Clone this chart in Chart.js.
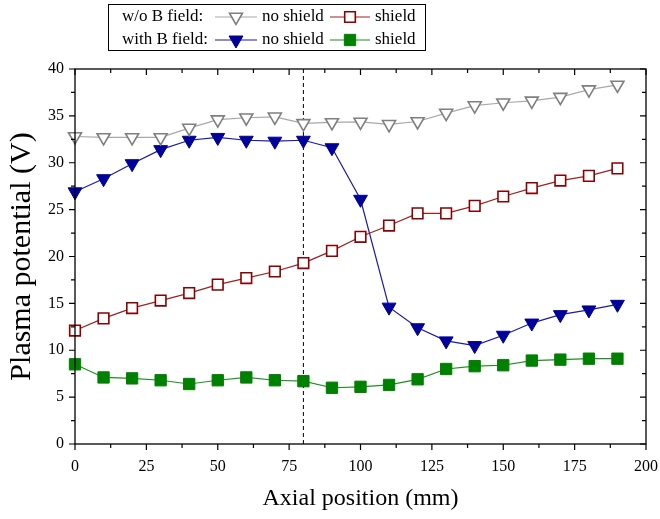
<!DOCTYPE html>
<html>
<head>
<meta charset="utf-8">
<title>Plasma potential vs axial position</title>
<script src="https://cdn.jsdelivr.net/npm/chart.js@4.4.1/dist/chart.umd.min.js"></script>
<style>
  html, body { margin: 0; padding: 0; background: #fff; }
  #wrap { width: 660px; height: 519px; position: relative; }
</style>
</head>
<body>
<div id="wrap"><canvas id="chart"></canvas></div>
<script>
// axial positions (mm)
const positions = [0, 10, 20, 30, 40, 50, 60, 70, 80, 90, 100, 110, 120, 130, 140, 150, 160, 170, 180, 190];

// plasma potential (V)
const noShieldNoB = [32.8, 32.7, 32.7, 32.7, 33.7, 34.6, 34.8, 34.9, 34.2, 34.3, 34.35, 34.1, 34.4, 35.3, 36.1, 36.4, 36.6, 37.0, 37.8, 38.3];
const shieldNoB = [12.1, 13.4, 14.5, 15.3, 16.1, 17.0, 17.7, 18.4, 19.3, 20.6, 22.1, 23.3, 24.6, 24.6, 25.4, 26.4, 27.3, 28.1, 28.6, 29.4];
const noShieldB = [26.9, 28.3, 29.9, 31.4, 32.4, 32.7, 32.4, 32.3, 32.4, 31.6, 26.1, 14.6, 12.4, 11.0, 10.5, 11.6, 12.9, 13.8, 14.3, 14.9];
const shieldB = [8.5, 7.1, 7.0, 6.8, 6.4, 6.8, 7.1, 6.8, 6.7, 6.0, 6.1, 6.3, 6.9, 8.0, 8.3, 8.4, 8.9, 9.0, 9.1, 9.1];

// dashed marker line position
const guideX = 80;

const legendGroups = ['w/o B field:', 'with B field:'];
const legendLabels = ['no shield', 'shield'];
const xTitle = 'Axial position (mm)';
const yTitle = 'Plasma potential (V)';

const serif = '"Liberation Serif", "Times New Roman", serif';
Chart.defaults.font.family = serif;
Chart.defaults.color = '#000';

const pts = arr => positions.map((x, i) => ({ x: x, y: arr[i] }));

// box + ticks on all four sides (minor ticks halfway between major ones)
const framePlugin = {
  id: 'frame',
  afterDraw(chart) {
    const { ctx, chartArea: a, scales: { x, y } } = chart;
    ctx.save();
    ctx.strokeStyle = '#000';
    ctx.lineWidth = 1.3;
    ctx.strokeRect(a.left, a.top, a.right - a.left, a.bottom - a.top);
    ctx.lineWidth = 1.2;
    const xt = x.ticks.map(t => t.value);
    const yt = y.ticks.map(t => t.value);
    ctx.beginPath();
    xt.forEach((v, i) => {
      const px = x.getPixelForValue(v);
      ctx.moveTo(px, a.bottom); ctx.lineTo(px, a.bottom + 6);
      ctx.moveTo(px, a.top); ctx.lineTo(px, a.top + 6);
      if (i < xt.length - 1) {
        const mx = x.getPixelForValue((v + xt[i + 1]) / 2);
        ctx.moveTo(mx, a.bottom); ctx.lineTo(mx, a.bottom + 4);
        ctx.moveTo(mx, a.top); ctx.lineTo(mx, a.top + 4);
      }
    });
    yt.forEach((v, i) => {
      const py = y.getPixelForValue(v);
      ctx.moveTo(a.left, py); ctx.lineTo(a.left - 6, py);
      ctx.moveTo(a.right, py); ctx.lineTo(a.right - 6, py);
      if (i < yt.length - 1) {
        const my = y.getPixelForValue((v + yt[i + 1]) / 2);
        ctx.moveTo(a.left, my); ctx.lineTo(a.left - 4, my);
        ctx.moveTo(a.right, my); ctx.lineTo(a.right - 4, my);
      }
    });
    ctx.stroke();
    ctx.restore();
  }
};

// two-row grouped legend in a box at the top
const legendPlugin = {
  id: 'groupLegend',
  afterDraw(chart) {
    const ctx = chart.ctx;
    const ds = chart.data.datasets;
    ctx.save();
    ctx.fillStyle = '#fff';
    ctx.fillRect(108, 4, 317, 46);
    ctx.strokeStyle = '#000';
    ctx.lineWidth = 1;
    ctx.strokeRect(108.5, 4.5, 317, 46);
    ctx.font = '17px ' + serif;
    ctx.textBaseline = 'middle';
    const rows = [[0, 1], [2, 3]];
    const rowY = [17, 40];
    const cols = [{ x0: 215, x1: 257, tx: 262 }, { x0: 330, x1: 370, tx: 375 }];
    rows.forEach((idx, r) => {
      ctx.fillStyle = '#000';
      ctx.fillText(legendGroups[r], 122, rowY[r]);
      idx.forEach((d, c) => {
        const s = ds[d];
        const col = cols[c];
        ctx.strokeStyle = s.borderColor;
        ctx.lineWidth = s.borderWidth;
        ctx.beginPath();
        ctx.moveTo(col.x0, rowY[r]);
        ctx.lineTo(col.x1, rowY[r]);
        ctx.stroke();
        ctx.fillStyle = s.pointBackgroundColor;
        ctx.strokeStyle = s.pointBorderColor;
        ctx.lineWidth = s.pointBorderWidth;
        Chart.helpers.drawPoint(ctx, {
          pointStyle: s.pointStyle, rotation: s.pointRotation || 0,
          radius: s.pointRadius, borderWidth: s.pointBorderWidth
        }, (col.x0 + col.x1) / 2, rowY[r]);
        ctx.fillStyle = '#000';
        ctx.fillText(legendLabels[c], col.tx, rowY[r]);
      });
    });
    ctx.restore();
  }
};

new Chart(document.getElementById('chart'), {
  type: 'line',
  data: {
    datasets: [
      {
        label: 'w/o B field: no shield', data: pts(noShieldNoB),
        borderColor: '#a8a8a8', borderWidth: 1.2,
        pointStyle: 'triangle', pointRotation: 180, pointRadius: 7.5,
        pointBackgroundColor: '#fff', pointBorderColor: '#7f7f7f', pointBorderWidth: 1.6
      },
      {
        label: 'w/o B field: shield', data: pts(shieldNoB),
        borderColor: '#a02020', borderWidth: 1.2,
        pointStyle: 'rect', pointRadius: 7.5,
        pointBackgroundColor: '#fff', pointBorderColor: '#8b0000', pointBorderWidth: 1.6
      },
      {
        label: 'with B field: no shield', data: pts(noShieldB),
        borderColor: '#1a1aa8', borderWidth: 1.2,
        pointStyle: 'triangle', pointRotation: 180, pointRadius: 8,
        pointBackgroundColor: '#00009a', pointBorderColor: '#00009a', pointBorderWidth: 1
      },
      {
        label: 'with B field: shield', data: pts(shieldB),
        borderColor: '#1f8f1f', borderWidth: 1.2,
        pointStyle: 'rect', pointRadius: 8,
        pointBackgroundColor: '#008000', pointBorderColor: '#008000', pointBorderWidth: 1
      },
      {
        label: 'guide', data: [{ x: guideX, y: 0 }, { x: guideX, y: 40 }],
        borderColor: '#000', borderWidth: 1, borderDash: [4, 3],
        pointRadius: 0
      }
    ]
  },
  options: {
    responsive: true,
    maintainAspectRatio: false,
    devicePixelRatio: 1,
    animation: false,
    layout: { padding: { top: 69, right: 14, left: 0, bottom: 0 } },
    datasets: { line: { clip: false, tension: 0 } },
    plugins: { legend: { display: false }, tooltip: { enabled: false } },
    scales: {
      x: {
        type: 'linear', min: 0, max: 200,
        ticks: { stepSize: 25, padding: 13, font: { size: 16 }, maxRotation: 0 },
        grid: { display: false, drawTicks: false }, border: { display: false },
        title: { display: true, text: xTitle, font: { size: 24 }, padding: { top: 0, bottom: 6 } },
        afterFit: s => { s.height = 75; s.paddingLeft = 0; s.paddingRight = 0; }
      },
      y: {
        min: 0, max: 40,
        ticks: { stepSize: 5, padding: 11, font: { size: 16 } },
        grid: { display: false, drawTicks: false }, border: { display: false },
        title: { display: true, text: yTitle, font: { size: 30 }, padding: { top: 4, bottom: 0 } },
        afterFit: s => { s.width = 75; s.paddingTop = 0; s.paddingBottom = 0; }
      }
    }
  },
  plugins: [framePlugin, legendPlugin]
});
</script>
</body>
</html>
